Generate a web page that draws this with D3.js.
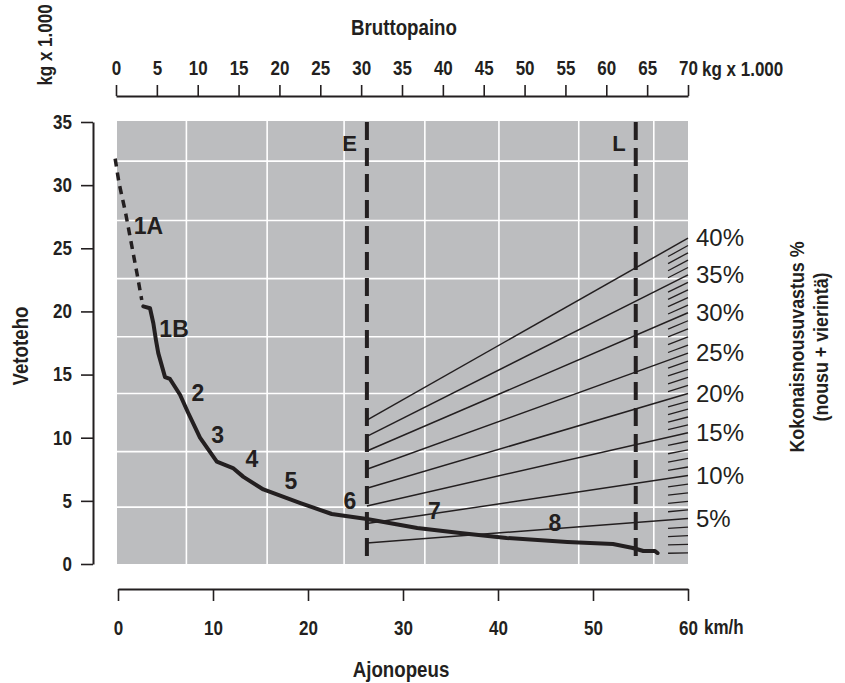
<!DOCTYPE html>
<html>
<head>
<meta charset="utf-8">
<script src="https://cdn.jsdelivr.net/npm/d3@7"></script>
<style>
  body { margin: 0; background: #fff; }
  .cond { font-family: "Liberation Sans", Arial, sans-serif; font-weight: bold; fill: #231f20; }
  .reg { font-family: "Liberation Sans", Arial, sans-serif; fill: #231f20; }
  .lbl { font-family: "Liberation Sans", Arial, sans-serif; font-weight: bold; fill: #231f20; }
</style>
</head>
<body>
<div id="chart"></div>
<script>
// axis ticks
var speedTicks = [0, 10, 20, 30, 40, 50, 60];
var weightTicks = [0, 5, 10, 15, 20, 25, 30, 35, 40, 45, 50, 55, 60, 65, 70];
var forceTicks = [0, 5, 10, 15, 20, 25, 30, 35];

// background grid (in axis units)
var gridSpeeds = [7.2, 15.7, 23.8, 32.3, 40.1, 48.5, 56.4];
var gridForces = [4.5, 8.9, 13.5, 18.0, 22.6, 27.2, 31.9];

// vertical limit lines E and L (km/h)
var limitNames = ["E", "L"];
var limitSpeeds = [26.2, 54.5];

// traction curve, gear 1A dashed, then solid
var curve1A = [[-0.3, 32.1], [0.1, 30.2], [0.8, 27.8], [1.5, 25.0], [2.0, 23.0], [2.5, 20.9]];
var curveMain = [[2.66, 20.4], [3.37, 20.25], [3.72, 19.06], [4.0, 17.7], [4.24, 16.7], [4.95, 14.8],
  [5.47, 14.65], [6.53, 13.4], [7.37, 12.0], [8.63, 10.0], [10.4, 8.1], [12.1, 7.6], [13.2, 6.9],
  [15.3, 5.9], [19.2, 4.83], [22.5, 3.96], [26.2, 3.56], [31.5, 2.85], [36.0, 2.45], [40.9, 2.06],
  [47.3, 1.74], [52.1, 1.58], [54.2, 1.27], [55.3, 1.03], [56.5, 1.03], [56.8, 0.87]];

// gear labels and where they sit
var gearNames = ["1A", "1B", "2", "3", "4", "5", "6", "7", "8"];
var gearSpeeds = [3.2, 5.9, 8.4, 10.5, 14.1, 18.2, 24.4, 33.3, 46.0];
var gearForces = [26.8, 18.6, 13.6, 10.2, 8.3, 6.6, 5.0, 4.2, 3.3];

// total resistance lines (%), force at E line and at 60 km/h
var resistPct = [5, 10, 15, 20, 25, 30, 35, 40];
var resistLeft = [1.66, 3.2, 4.6, 6.0, 7.5, 8.95, 10.1, 11.4];
var resistRight = [3.6, 7.0, 10.4, 13.5, 16.7, 19.9, 22.9, 25.8];
var hatchPct = d3.range(1, 40).filter(function (p) { return p % 5 != 0; });
var hatchFrom = 57.9;

var width = 845, height = 683;
var margin = { top: 122, right: 157, bottom: 119, left: 118 };
var squeeze = 0.85; // condensed look for the bold labels

var svg = d3.select("#chart").append("svg")
  .attr("width", width).attr("height", height);

var x = d3.scaleLinear().domain([0, 60]).range([margin.left, width - margin.right]);
var xw = d3.scaleLinear().domain([0, 70]).range([margin.left - 2, width - margin.right]);
var y = d3.scaleLinear().domain([0, 35]).range([height - margin.bottom, margin.top]);

var ink = "#231f20";

function condText(px, py, str, size, anchor, rot) {
  return svg.append("text").attr("class", "cond")
    .attr("font-size", size)
    .attr("text-anchor", anchor || "start")
    .attr("transform", "translate(" + px + "," + py + ") rotate(" + (rot || 0) + ") scale(" + squeeze + ",1)")
    .text(str);
}

// gray panel
svg.append("rect")
  .attr("x", x(0) - 1).attr("y", y(35) - 1)
  .attr("width", x(60) - x(0) + 1).attr("height", y(0) - y(35) + 1)
  .attr("fill", "#bcbdbf");

// grid
svg.selectAll(".gv").data(gridSpeeds).enter().append("line")
  .attr("x1", function (d) { return x(d); }).attr("x2", function (d) { return x(d); })
  .attr("y1", y(35) - 1).attr("y2", y(0))
  .attr("stroke", "#fff").attr("stroke-width", 1.6);
svg.selectAll(".gh").data(gridForces).enter().append("line")
  .attr("x1", x(0) - 1).attr("x2", x(60))
  .attr("y1", function (d) { return y(d); }).attr("y2", function (d) { return y(d); })
  .attr("stroke", "#fff").attr("stroke-width", 1.6);

// resistance lines
var rightScale = d3.scaleLinear().domain(resistPct).range(resistRight);
var leftScale = d3.scaleLinear().domain(resistPct).range(resistLeft);
var eSpeed = limitSpeeds[0];

svg.selectAll(".res").data(resistPct).enter().append("line")
  .attr("x1", x(eSpeed)).attr("x2", x(60))
  .attr("y1", function (d) { return y(leftScale(d)); })
  .attr("y2", function (d) { return y(rightScale(d)); })
  .attr("stroke", ink).attr("stroke-width", 1.5);

function forceAt(p, s) {
  var t = (s - eSpeed) / (60 - eSpeed);
  return leftScale(p) + (rightScale(p) - leftScale(p)) * t;
}
svg.selectAll(".hatch").data(hatchPct).enter().append("line")
  .attr("x1", x(hatchFrom)).attr("x2", x(60))
  .attr("y1", function (d) { return y(forceAt(d, hatchFrom)); })
  .attr("y2", function (d) { return y(rightScale(d)); })
  .attr("stroke", ink).attr("stroke-width", 1.3);

// percent labels
svg.selectAll(".pct").data(resistPct).enter().append("text")
  .attr("class", "reg")
  .attr("x", x(60) + 8)
  .attr("y", function (d) { return y(rightScale(d)) + 8; })
  .attr("font-size", 24)
  .text(function (d) { return d + "%"; });

// E and L
svg.selectAll(".lim").data(limitSpeeds).enter().append("line")
  .attr("x1", function (d) { return x(d); }).attr("x2", function (d) { return x(d); })
  .attr("y1", y(35)).attr("y2", y(0))
  .attr("stroke", ink).attr("stroke-width", 4)
  .attr("stroke-dasharray", "18,8");
svg.selectAll(".limt").data(limitNames).enter().append("text")
  .attr("class", "lbl")
  .attr("x", function (d, i) { return x(limitSpeeds[i]) - 10; })
  .attr("y", y(35) + 29)
  .attr("text-anchor", "end")
  .attr("font-size", 22)
  .text(function (d) { return d; });

// traction curve
var line = d3.line()
  .x(function (d) { return x(d[0]); })
  .y(function (d) { return y(d[1]); });
svg.append("path").datum(curve1A)
  .attr("d", line).attr("fill", "none")
  .attr("stroke", ink).attr("stroke-width", 3.5)
  .attr("stroke-dasharray", "8,6");
svg.append("path").datum(curveMain)
  .attr("d", line).attr("fill", "none")
  .attr("stroke", ink).attr("stroke-width", 4)
  .attr("stroke-linejoin", "round").attr("stroke-linecap", "round");

svg.selectAll(".gear").data(gearNames).enter().append("text")
  .attr("class", "lbl")
  .attr("x", function (d, i) { return x(gearSpeeds[i]); })
  .attr("y", function (d, i) { return y(gearForces[i]); })
  .attr("text-anchor", "middle")
  .attr("dy", "0.36em")
  .attr("font-size", 23)
  .text(function (d) { return d; });

// left axis
var yAxis = svg.append("g")
  .attr("transform", "translate(93,0)")
  .call(d3.axisLeft(y).tickValues(forceTicks).tickSize(12).tickPadding(9).tickSizeOuter(0));

// bottom axis
var xAxis = svg.append("g")
  .attr("transform", "translate(0,589)")
  .call(d3.axisBottom(x).tickValues(speedTicks).tickSize(12).tickPadding(20).tickSizeOuter(0));

// top axis
var wAxis = svg.append("g")
  .attr("transform", "translate(0,96)")
  .call(d3.axisTop(xw).tickValues(weightTicks).tickSize(11).tickPadding(10).tickSizeOuter(0));

[yAxis, xAxis, wAxis].forEach(function (g) {
  g.attr("font-family", null).attr("font-size", null);
  g.select(".domain").attr("stroke", ink).attr("stroke-width", 2);
  g.selectAll(".tick line").attr("stroke", ink).attr("stroke-width", 1.6);
  g.selectAll(".tick text")
    .attr("class", "cond").attr("font-size", 20).attr("fill", ink)
    .attr("x", function () { return (+d3.select(this).attr("x") || 0) / squeeze; })
    .attr("transform", "scale(" + squeeze + ",1)");
});

// unit and titles
condText(x(60) + 16, 634, "km/h", 20);
condText(xw(70) + 14, 76, "kg x 1.000", 20);
condText(52, 45, "kg x 1.000", 20, "middle", -90);

condText(404, 35, "Bruttopaino", 22, "middle");
condText(401, 677, "Ajonopeus", 22, "middle");
condText(28, 346, "Vetoteho", 22, "middle", -90);

condText(804, 347, "Kokonaisnousuvastus %", 21, "middle", -90);
condText(828, 347, "(nousu + vierintä)", 21, "middle", -90);
</script>
</body>
</html>
